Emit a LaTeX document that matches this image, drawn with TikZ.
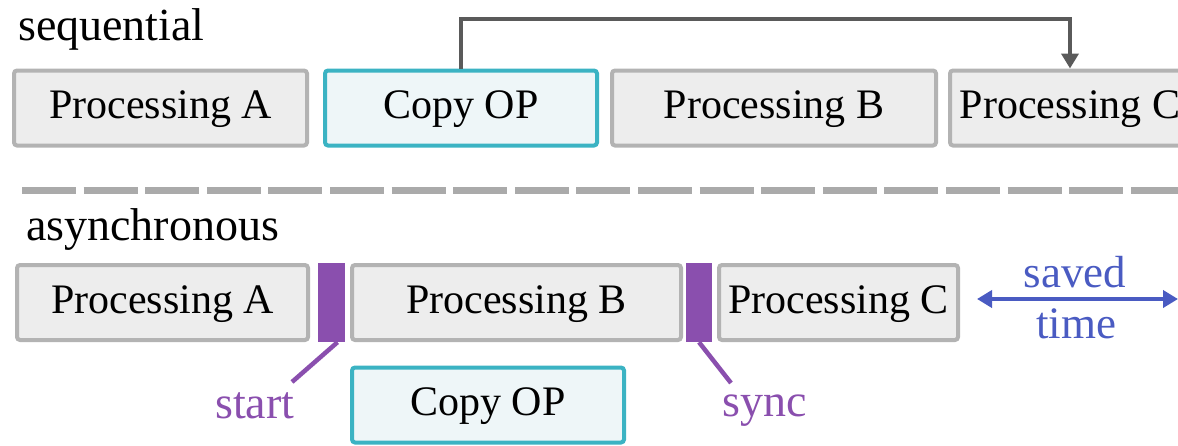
\documentclass[tikz,border=0pt]{standalone}
\usepackage{fontspec}
\setmainfont{LiberationSerif}[Extension=.ttf, UprightFont=*-Regular, BoldFont=*-Bold, ItalicFont=*-Italic, BoldItalicFont=*-BoldItalic]
\usetikzlibrary{arrows.meta,calc}
\definecolor{boxfill}{HTML}{EDEDED}
\definecolor{boxgray}{HTML}{B3B3B3}
\definecolor{copyteal}{HTML}{3BB3C3}
\definecolor{copyfill}{HTML}{EEF6F8}
\definecolor{markpurple}{HTML}{8A4FAE}
\definecolor{savedblue}{HTML}{4A5BC2}
\definecolor{arrowgray}{HTML}{5A5A5A}
\definecolor{sepgray}{HTML}{AAAAAA}
\begin{document}
\begin{tikzpicture}[x=1pt,y=-1pt,
  proc/.style={draw=boxgray, fill=boxfill, line width=4pt, rounded corners=3pt,
    minimum height=75pt, inner sep=0pt, text height=29pt, text depth=8pt,
    font=\fontsize{42}{48}\selectfont},
  copyop/.style={proc, draw=copyteal},
  marker/.style={fill=markpurple, inner sep=0pt, minimum height=79pt},
  lbl/.style={font=\fontsize{46}{52}\selectfont, anchor=base west, inner sep=0pt},
  plbl/.style={lbl, text=markpurple},
  pline/.style={draw=markpurple, line width=4.5pt},
  blbl/.style={font=\fontsize{45}{50}\selectfont, anchor=base, inner sep=0pt, text=savedblue}
]
\clip (0,0) rectangle (1178,445);

% sequential schedule
\node[lbl] (seqlbl) at (18,40) {sequential};
\node[proc, minimum width=293pt] (sA) at (160.5,108) {Processing A};
\node[copyop, fill=copyfill, minimum width=272pt] (sCopy) at (461,108) {Copy OP};
\node[proc, minimum width=324pt] (sB) at (774,108) {Processing B};
\node[proc, minimum width=240pt] (sC) at (1070,108) {Processing C};
\draw[draw=arrowgray, line width=4pt, -{Triangle[width=17pt,length=15pt]}]
  (sCopy.north) -- ++(0,-50) -| (sC.north);

% separator
\draw[sepgray, line width=7pt, dash pattern=on 54pt off 7.6pt] (22,190) -- (1190,190);

% asynchronous schedule
\node[lbl] (asynclbl) at (26,240) {asynchronous};
\node[proc, minimum width=291pt] (aA) at (162.5,302.5) {Processing A};
\node[marker, minimum width=27pt] (bar1) at (331.5,302.5) {};
\node[proc, minimum width=329pt] (aB) at (516.5,302.5) {Processing B};
\node[marker, minimum width=26pt] (bar2) at (699,302.5) {};
\node[proc, minimum width=239pt] (aC) at (838.5,302.5) {Processing C};
\node[copyop, fill=copyfill, minimum width=272pt] (aCopy) at (488,405) {Copy OP};

\node[plbl] (startlbl) at (215,418) {start};
\node[plbl] (synclbl) at (722,416) {sync};
\coordinate (startend) at (292,382);
\coordinate (syncend) at (731,383);
\draw[pline] ($(bar1.south)+(6,0)$) -- (startend);
\draw[pline] (bar2.south) -- (syncend);

\coordinate (savedend) at (1178,299);
\draw[savedblue, line width=4.5pt, {Triangle[width=17pt,length=15pt]}-{Triangle[width=17pt,length=15pt]}]
  ($(aC.east)+(17,-3.5)$) -- (savedend);
\node[blbl] (savedlbl) at (1075,287) {saved};
\node[blbl] (timelbl) at (1076,338) {time};
\end{tikzpicture}
\end{document}
